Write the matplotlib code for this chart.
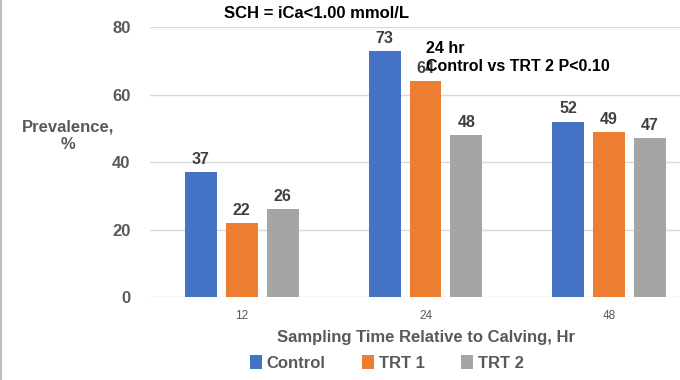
import matplotlib
matplotlib.use('Agg')
import matplotlib.pyplot as plt
from matplotlib.lines import Line2D
import numpy as np

plt.rcParams['font.family'] = ['Liberation Sans', 'DejaVu Sans']

categories = ['12', '24', '48']
series_names = ['Control', 'TRT 1', 'TRT 2']
control = [37, 73, 52]
trt1 = [22, 64, 49]
trt2 = [26, 48, 47]
colors = ['#4472C4', '#ED7D31', '#A5A5A5']
txt_gray = '#595959'

fig = plt.figure(figsize=(6.8, 3.8), dpi=100)
ax = fig.add_axes([0.2206, 0.2184, 0.8103, 0.7105])

x = np.arange(len(categories))
width = 0.174
step = 0.223
for k, vals in enumerate([control, trt1, trt2]):
    pos = x + (k - 1) * step
    bars = ax.bar(pos, vals, width, color=colors[k], label=series_names[k], zorder=3)
    for b, v in zip(bars, vals):
        ax.text(b.get_x() + b.get_width() / 2, v + 1.5, str(v), ha='center', va='bottom',
                fontsize=11.5, fontweight='bold', color='#404040', zorder=4)

ax.set_xlim(-0.5, 2.5)
ax.set_ylim(0, 80)
ax.set_yticks([0, 20, 40, 60, 80])
ax.set_xticks(x)
ax.set_xticklabels(categories)
ax.tick_params(axis='x', length=0, labelsize=8.5, labelcolor=txt_gray, pad=9)
ax.tick_params(axis='y', length=0, labelsize=12, labelcolor=txt_gray, pad=14)
for lab in ax.get_yticklabels():
    lab.set_fontweight('bold')
for s in ax.spines.values():
    s.set_visible(False)
ax.grid(axis='y', color='#D9D9D9', linewidth=1, zorder=0)

ax.set_xlabel('Sampling Time Relative to Calving, Hr', fontsize=12, fontweight='bold',
              color=txt_gray, labelpad=6)
fig.text(68 / 680, 1 - 136 / 380, 'Prevalence,\n%', ha='center', va='center', fontsize=12,
         fontweight='bold', color=txt_gray, linespacing=1.2)
fig.text(317 / 680, 1 - 13 / 380, 'SCH = iCa<1.00 mmol/L', ha='center', va='center',
         fontsize=12, fontweight='bold', color='black')
ax.text(1, 75.8, '24 hr\nControl vs TRT 2 P<0.10', ha='left', va='top', fontsize=11.5,
        fontweight='bold', color='black', linespacing=1.2, zorder=5)

leg = fig.legend(loc='center', bbox_to_anchor=(387 / 680, 1 - 363 / 380), ncol=3, frameon=False,
                 handlelength=0.7, handleheight=0.9, handletextpad=0.3, columnspacing=2.2,
                 prop={'size': 12, 'weight': 'bold'})
for t in leg.get_texts():
    t.set_color(txt_gray)

fig.add_artist(Line2D([0.002, 0.002], [0, 1], transform=fig.transFigure, color='#BFBFBF', linewidth=1.5))

fig.savefig('out.png', dpi=100)
